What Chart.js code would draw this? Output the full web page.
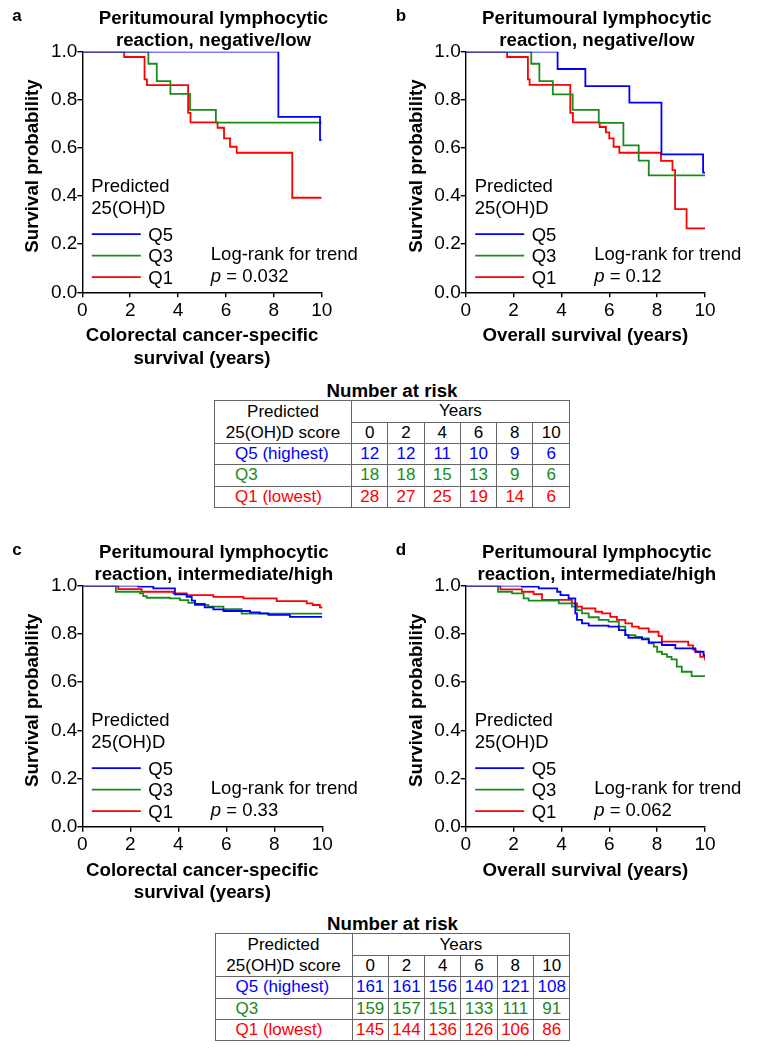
<!DOCTYPE html>
<html>
<head>
<meta charset="utf-8">
<script src="https://cdn.jsdelivr.net/npm/chart.js@4.4.1/dist/chart.umd.min.js"></script>
<style>
  body { margin: 0; background: #fff; }
  #page { position: relative; width: 758px; height: 1050px; overflow: hidden; font-family: "Liberation Sans", Arial, sans-serif; }
  canvas { position: absolute; }
  .riskTitle { position: absolute; width: 356px; text-align: center; font-weight: bold; font-size: 18.7px; line-height: 20px; color: #000; }
  table.risk { position: absolute; border-collapse: collapse; table-layout: fixed; width: 355px; font-size: 17px; color: #000; border: 1.5px solid #555; }
  table.risk td { border: 1px solid #666; padding: 0; height: 20.3px; line-height: 20px; text-align: center; white-space: nowrap; overflow: visible; }
  table.risk td.grp { text-align: left; padding-left: 20px; }
</style>
</head>
<body>
<div id="page">
  <canvas id="cA"></canvas>
  <canvas id="cB"></canvas>
  <canvas id="cC"></canvas>
  <canvas id="cD"></canvas>
  <div class="riskTitle" id="t1"></div>
  <table class="risk" id="risk1"></table>
  <div class="riskTitle" id="t2"></div>
  <table class="risk" id="risk2"></table>
</div>
<script>
const GROUPS = ["Q5", "Q3", "Q1"];
const COLORS = ["#0000ff", "#1a8a1a", "#ff0000"];
const FONT = "'Liberation Sans', Arial, sans-serif";

// ---- KM curves, [years, survival] ----
// a: negative/low, colorectal cancer-specific survival
const aQ5 = [[0,1],[8.19,0.729],[9.93,0.633],[10,0.633]];
const aQ3 = [[0,1],[2.76,0.950],[3.11,0.878],[3.68,0.825],[4.50,0.758],[5.58,0.705],[10,0.705]];
const aQ1 = [[0,1],[1.75,0.978],[2.60,0.885],[2.70,0.861],[4.42,0.746],[4.52,0.706],[5.65,0.684],[5.92,0.640],[6.17,0.605],[6.45,0.580],[8.77,0.393],[10,0.393]];

// b: negative/low, overall survival
const bQ5 = [[0,1],[3.84,0.928],[5.00,0.857],[6.84,0.788],[8.18,0.573],[9.92,0.497],[10,0.497]];
const bQ3 = [[0,1],[2.74,0.950],[3.08,0.878],[3.64,0.823],[4.47,0.758],[5.56,0.704],[6.59,0.611],[7.23,0.547],[7.65,0.486],[10,0.486]];
const bQ1 = [[0,1],[1.73,0.978],[2.60,0.885],[2.67,0.862],[4.37,0.746],[4.48,0.706],[5.60,0.687],[5.86,0.665],[6.00,0.640],[6.18,0.605],[6.42,0.580],[8.16,0.546],[8.64,0.508],[8.75,0.346],[9.23,0.266],[10,0.266]];

// c: intermediate/high, colorectal cancer-specific survival
const cQ5 = [[0,1],[2.33,0.996],[2.96,0.989],[3.86,0.964],[4.35,0.954],[4.56,0.938],[4.70,0.924],[5.10,0.910],[5.46,0.902],[5.88,0.895],[6.99,0.889],[7.40,0.885],[7.75,0.879],[8.65,0.871],[10,0.871]];
const cQ3 = [[0,1],[1.40,0.975],[2.40,0.968],[2.54,0.957],[2.68,0.950],[3.65,0.947],[4.07,0.940],[4.42,0.929],[4.69,0.920],[5.25,0.913],[5.88,0.903],[6.64,0.884],[10,0.884]];
const cQ1 = [[0,1],[1.50,0.986],[2.47,0.975],[3.79,0.968],[4.35,0.961],[5.46,0.954],[6.71,0.947],[8.10,0.936],[9.35,0.927],[9.60,0.920],[9.90,0.910],[10,0.905]];

// d: intermediate/high, overall survival
const dQ5 = [[0,1],[2.35,0.996],[3.05,0.989],[3.82,0.975],[3.96,0.961],[4.30,0.947],[4.58,0.885],[4.65,0.858],[4.86,0.844],[5.14,0.834],[5.97,0.830],[6.40,0.816],[6.67,0.795],[6.80,0.784],[7.37,0.777],[7.65,0.765],[8.20,0.754],[8.76,0.740],[9.60,0.726],[9.94,0.712],[10,0.705]];
const dQ3 = [[0,1],[1.35,0.975],[1.94,0.968],[2.42,0.947],[2.63,0.938],[3.89,0.927],[4.44,0.913],[4.65,0.899],[4.86,0.885],[5.14,0.869],[5.56,0.858],[5.97,0.851],[6.40,0.830],[6.67,0.795],[7.09,0.788],[7.37,0.781],[7.65,0.761],[7.86,0.747],[8.00,0.726],[8.20,0.716],[8.41,0.705],[8.60,0.694],[8.82,0.664],[9.03,0.643],[9.44,0.625],[10,0.625]];
const dQ1 = [[0,1],[1.45,0.985],[2.35,0.975],[2.84,0.965],[3.19,0.941],[4.44,0.927],[4.65,0.913],[4.86,0.906],[5.42,0.892],[5.70,0.885],[6.04,0.871],[6.32,0.858],[6.67,0.844],[6.95,0.830],[7.23,0.823],[7.65,0.809],[8.06,0.791],[8.20,0.768],[9.30,0.752],[9.50,0.735],[9.60,0.726],[9.80,0.705],[10,0.690]];

// ---- number at risk tables ----
const riskYears = [0, 2, 4, 6, 8, 10];
const riskGroups = ["Q5 (highest)", "Q3", "Q1 (lowest)"];
const risk1Q5 = [12, 12, 11, 10, 9, 6];
const risk1Q3 = [18, 18, 15, 13, 9, 6];
const risk1Q1 = [28, 27, 25, 19, 14, 6];
const risk2Q5 = [161, 161, 156, 140, 121, 108];
const risk2Q3 = [159, 157, 151, 133, 111, 91];
const risk2Q1 = [145, 144, 136, 126, 106, 86];

const TITLE_LOW = ["Peritumoural lymphocytic", "reaction, negative/low"];
const TITLE_HIGH = ["Peritumoural lymphocytic", "reaction, intermediate/high"];
const XT_CSS = ["Colorectal cancer-specific", "survival (years)"];
const XT_OS = "Overall survival (years)";

// panel boxes in page pixels; area = plot area
const panels = [
  { id: "cA", letter: "a", title: TITLE_LOW, xTitle: XT_CSS, p: "0.032", series: [aQ5, aQ3, aQ1],
    box: { left: 0, top: 0, w: 380, h: 372 }, area: { left: 82.3, top: 51.7, right: 321.7, bottom: 292.3 } },
  { id: "cB", letter: "b", title: TITLE_LOW, xTitle: XT_OS, p: "0.12", series: [bQ5, bQ3, bQ1],
    box: { left: 383, top: 0, w: 375, h: 372 }, area: { left: 465.7, top: 51.7, right: 705, bottom: 292.3 } },
  { id: "cC", letter: "c", title: TITLE_HIGH, xTitle: XT_CSS, p: "0.33", series: [cQ5, cQ3, cQ1],
    box: { left: 0, top: 530, w: 380, h: 375 }, area: { left: 82.3, top: 585.7, right: 322.3, bottom: 826.7 } },
  { id: "cD", letter: "d", title: TITLE_HIGH, xTitle: XT_OS, p: "0.062", series: [dQ5, dQ3, dQ1],
    box: { left: 383, top: 530, w: 375, h: 375 }, area: { left: 465.7, top: 585.7, right: 705, bottom: 826.7 } },
];

// draws panel letter, title, y title, inner legend and p value
function decorPlugin(p) {
  return {
    id: "decor",
    afterDraw(chart) {
      const ctx = chart.ctx, ca = chart.chartArea;
      const L = ca.left, T = ca.top;
      ctx.save();
      ctx.fillStyle = "#000";
      ctx.textBaseline = "alphabetic";

      ctx.font = "bold 17px " + FONT;
      ctx.textAlign = "left";
      ctx.fillText(p.letter, L - 70, T - 31);

      ctx.font = "bold 18.7px " + FONT;
      ctx.textAlign = "center";
      const cx = (ca.left + ca.right) / 2 + 11.5;
      ctx.fillText(p.title[0], cx, T - 27.5);
      ctx.fillText(p.title[1], cx, T - 6);

      ctx.save();
      ctx.translate(L - 49, (ca.top + ca.bottom) / 2 - 6);
      ctx.rotate(-Math.PI / 2);
      ctx.textBaseline = "middle";
      ctx.fillText("Survival probability", 0, 0);
      ctx.restore();

      ctx.font = "18.5px " + FONT;
      ctx.textAlign = "left";
      ctx.fillText("Predicted", L + 9, T + 140);
      ctx.fillText("25(OH)D", L + 9, T + 162);
      const ly = [182.5, 204, 225.5];
      GROUPS.forEach((g, i) => {
        ctx.strokeStyle = COLORS[i];
        ctx.lineWidth = 1.8;
        ctx.beginPath();
        ctx.moveTo(L + 9.5, T + ly[i]);
        ctx.lineTo(L + 58.5, T + ly[i]);
        ctx.stroke();
        ctx.fillText(g, L + 66, T + ly[i] + 6.6);
      });
      ctx.fillText("Log-rank for trend", L + 128.5, T + 208.5);
      ctx.font = "italic 18.5px " + FONT;
      ctx.fillText("p", L + 128.5, T + 230);
      const pw = ctx.measureText("p").width;
      ctx.font = "18.5px " + FONT;
      ctx.fillText(" = " + p.p, L + 128.5 + pw, T + 230);
      ctx.restore();
    }
  };
}

panels.forEach(p => {
  const cv = document.getElementById(p.id);
  cv.width = p.box.w;
  cv.height = p.box.h;
  cv.style.left = p.box.left + "px";
  cv.style.top = p.box.top + "px";

  // plot area in canvas pixels
  const a = {
    left: p.area.left - p.box.left,
    top: p.area.top - p.box.top,
    right: p.area.right - p.box.left,
    bottom: p.area.bottom - p.box.top,
  };
  const lh = 18.7 * 1.2;
  const nLines = Array.isArray(p.xTitle) ? p.xTitle.length : 1;
  const xH = 43.7 + lh / 2 + lh * (nLines - 1);

  new Chart(cv, {
    type: "line",
    data: {
      datasets: p.series.map((s, i) => ({
        label: GROUPS[i],
        data: s.map(([x, y]) => ({ x, y })),
        borderColor: COLORS[i],
        borderWidth: 1.8,
        pointRadius: 0,
        stepped: "before",
        fill: false,
      }))
    },
    options: {
      responsive: false,
      animation: false,
      events: [],
      layout: {
        padding: { left: 0, top: a.top, right: p.box.w - a.right, bottom: p.box.h - a.bottom - xH }
      },
      plugins: { legend: { display: false }, tooltip: { enabled: false } },
      scales: {
        x: {
          type: "linear", min: 0, max: 10,
          ticks: { stepSize: 2, color: "#000", padding: 2, font: { family: FONT, size: 19 } },
          grid: { drawOnChartArea: false, tickLength: 5, color: "#000", lineWidth: 1.4 },
          border: { color: "#000", width: 1.4 },
          title: { display: true, text: p.xTitle, color: "#000", padding: 0,
                   font: { family: FONT, size: 18.7, weight: "bold", lineHeight: 1.2 } },
          afterFit: s => { s.height = xH; }
        },
        y: {
          min: 0, max: 1,
          ticks: { stepSize: 0.2, color: "#000", padding: 0, font: { family: FONT, size: 19 },
                   callback: v => v.toFixed(1) },
          grid: { drawOnChartArea: false, tickLength: 5, color: "#000", lineWidth: 1.4 },
          border: { color: "#000", width: 1.4 },
          afterFit: s => { s.width = a.left; }
        }
      }
    },
    plugins: [decorPlugin(p)]
  });
});

// ---- tables ----
function buildRisk(tableId, titleId, left, top, rows) {
  const t = document.getElementById(titleId);
  t.textContent = "Number at risk";
  t.style.left = left + "px";
  t.style.top = (top - 19) + "px";

  const tb = document.getElementById(tableId);
  tb.style.left = left + "px";
  tb.style.top = top + "px";
  let html = "<colgroup><col style='width:137px'>" + riskYears.map(() => "<col style='width:36.3px'>").join("") + "</colgroup>";
  html += "<tr><td rowspan='2' style='line-height:21px'>Predicted<br>25(OH)D score</td><td colspan='6'>Years</td></tr>";
  html += "<tr>" + riskYears.map(y => "<td>" + y + "</td>").join("") + "</tr>";
  rows.forEach((r, i) => {
    html += "<tr style='color:" + COLORS[i] + "'><td class='grp'>" + riskGroups[i] + "</td>" +
      r.map(v => "<td>" + v + "</td>").join("") + "</tr>";
  });
  tb.innerHTML = html;
}
buildRisk("risk1", "t1", 214, 400, [risk1Q5, risk1Q3, risk1Q1]);
buildRisk("risk2", "t2", 214.5, 933.3, [risk2Q5, risk2Q3, risk2Q1]);
</script>
</body>
</html>
